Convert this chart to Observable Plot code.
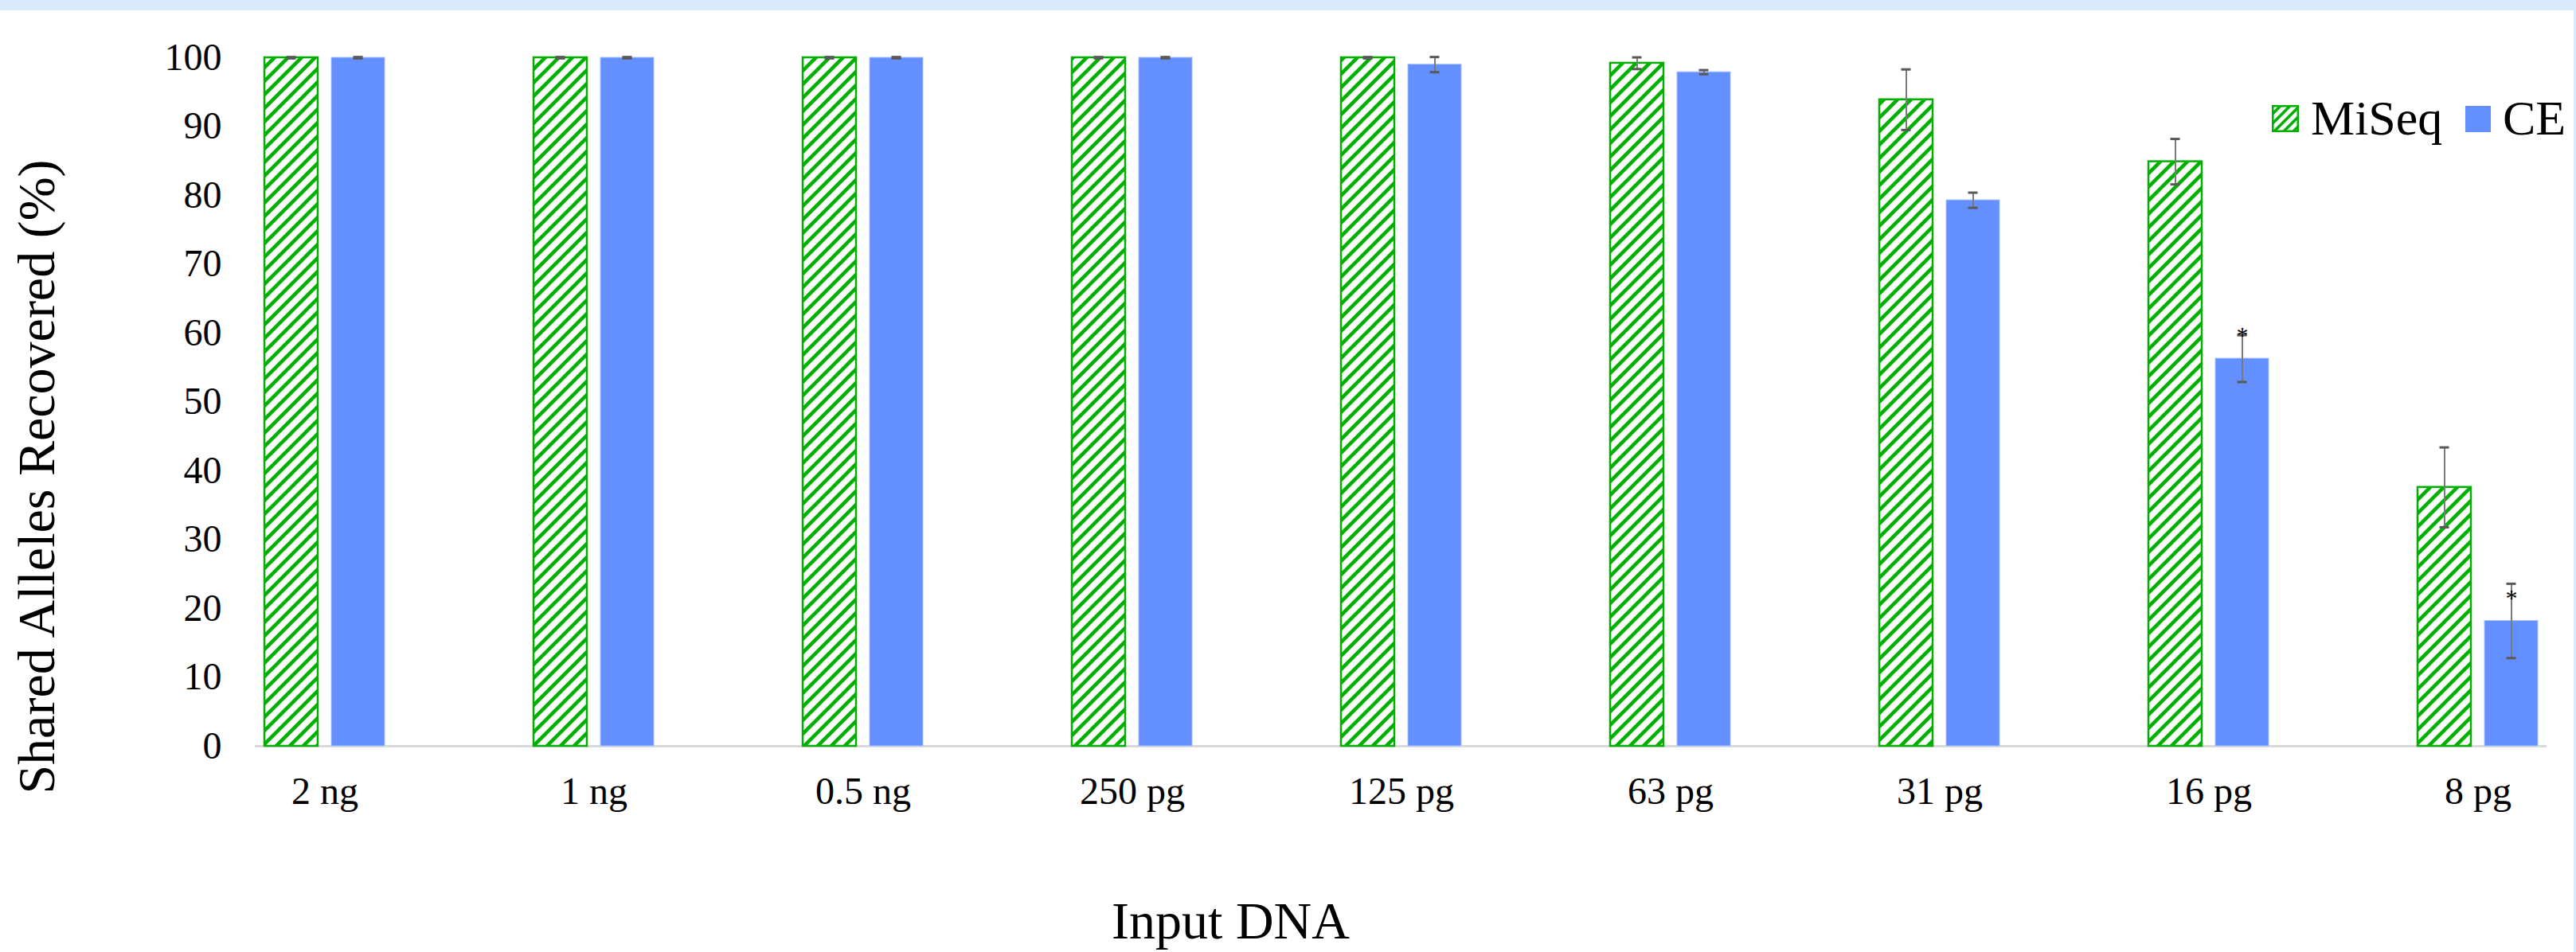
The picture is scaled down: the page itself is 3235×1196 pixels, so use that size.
<!DOCTYPE html>
<html>
<head>
<meta charset="utf-8">
<script src="https://cdn.jsdelivr.net/npm/d3@7"></script>
<script src="https://cdn.jsdelivr.net/npm/@observablehq/plot@0.6"></script>
<style>
  html, body { margin: 0; padding: 0; background: #fff; overflow: hidden; }
  #wrap { position: relative; width: 3235px; height: 1196px; background: #fff; font-family: "Liberation Serif", "Times New Roman", serif; }
  #topband { position: absolute; left: 0; top: 0; width: 3235px; height: 13px; background: #dbebfc; z-index: 3; }
  #rightband { position: absolute; left: 3232px; top: 0; width: 3px; height: 1196px; background: #dbebfc; z-index: 3; }
  .lg { position: absolute; z-index: 2; }
  .lgtext { font-size: 62px; line-height: 62px; color: #000; white-space: nowrap; }
</style>
</head>
<body>
<div id="wrap">
  <div id="topband"></div>
  <div id="rightband"></div>
  <svg class="lg" style="left:2853px; top:132px;" width="34" height="34">
    <defs>
      <pattern id="legend-hatch" patternUnits="userSpaceOnUse" width="12" height="12">
        <rect width="12" height="12" fill="#fff"></rect>
        <path d="M-3,3 l6,-6 M0,12 l12,-12 M9,15 l6,-6" stroke="#00b000" stroke-width="3.5"></path>
      </pattern>
    </defs>
    <rect x="1.25" y="1.25" width="31.5" height="31.5" fill="url(#legend-hatch)" stroke="#00b000" stroke-width="2.5"></rect>
  </svg>
  <div class="lg lgtext" style="left:2902px; top:117px;">MiSeq</div>
  <div class="lg" style="left:3096px; top:133px; width:32px; height:33px; background:#638fff;"></div>
  <div class="lg lgtext" style="left:3143px; top:117px;">CE</div>
  <div id="chart"></div>
</div>
<script>
// ---- data ----
const categories = ["2 ng", "1 ng", "0.5 ng", "250 pg", "125 pg", "63 pg", "31 pg", "16 pg", "8 pg"];
const miseqValues = [100, 100, 100, 100, 100, 99.2, 93.9, 84.9, 37.6];
const miseqErrors = [0.1, 0.1, 0.1, 0.1, 0.1, 0.85, 4.4, 3.3, 5.8];
const ceValues = [100, 100, 100, 100, 99.0, 97.9, 79.3, 56.3, 18.2];
const ceErrors = [0.1, 0.1, 0.1, 0.1, 1.1, 0.3, 1.1, 3.4, 5.4];
const ceSignificant = [false, false, false, false, false, false, false, true, true];
const yTicks = [0, 10, 20, 30, 40, 50, 60, 70, 80, 90, 100];
const yLabel = "Shared Alleles Recovered (%)";
const xLabel = "Input DNA";

const rows = categories.map((c, i) => ({
  category: c,
  miseq: miseqValues[i], miseqErr: miseqErrors[i],
  ce: ceValues[i], ceErr: ceErrors[i],
  star: ceSignificant[i]
}));

const serif = '"Liberation Serif", "Times New Roman", serif';
const off = 42;

const chart = Plot.plot({
  width: 3235,
  height: 1196,
  marginTop: 72,
  marginBottom: 259,
  marginLeft: 320,
  marginRight: 37,
  style: { fontFamily: serif, fontSize: "48px", color: "#000", background: "transparent" },
  x: { domain: categories, paddingInner: 0.802, paddingOuter: 0.151, label: null },
  y: { domain: [0, 100], label: null },
  marks: [
    Plot.ruleY([0], { stroke: "#d9d9d9", strokeWidth: 3 }),
    Plot.barY(rows, { x: "category", y: "miseq", dx: -off, fill: "url(#miseq-hatch)", stroke: "#00b000", strokeWidth: 2.5 }),
    Plot.barY(rows, { x: "category", y: "ce", dx: off, fill: "#638fff", stroke: "#a9c1ff", strokeWidth: 1 }),
    Plot.ruleX(rows, { x: "category", y1: d => d.miseq - d.miseqErr, y2: d => d.miseq + d.miseqErr, dx: -off, stroke: "#7a7a7a", strokeWidth: 2 }),
    Plot.tickY(rows, { x: "category", y: d => d.miseq - d.miseqErr, dx: -off, insetLeft: 27.5, insetRight: 27.5, stroke: "#595959", strokeWidth: 3 }),
    Plot.tickY(rows, { x: "category", y: d => d.miseq + d.miseqErr, dx: -off, insetLeft: 27.5, insetRight: 27.5, stroke: "#595959", strokeWidth: 3 }),
    Plot.ruleX(rows, { x: "category", y1: d => d.ce - d.ceErr, y2: d => d.ce + d.ceErr, dx: off, stroke: "#7a7a7a", strokeWidth: 2 }),
    Plot.tickY(rows, { x: "category", y: d => d.ce - d.ceErr, dx: off, insetLeft: 27.5, insetRight: 27.5, stroke: "#595959", strokeWidth: 3 }),
    Plot.tickY(rows, { x: "category", y: d => d.ce + d.ceErr, dx: off, insetLeft: 27.5, insetRight: 27.5, stroke: "#595959", strokeWidth: 3 }),
    Plot.text(rows.filter(d => d.star), { x: "category", y: "ce", text: () => "*", dx: off, dy: -29, fontSize: 30, lineAnchor: "middle", fill: "#000" }),
    Plot.axisY({ ticks: yTicks, tickSize: 0, tickPadding: 42, fontSize: 48, label: null }),
    Plot.axisX({ tickSize: 0, tickPadding: 38, fontSize: 48, label: null }),
    Plot.text([yLabel], { text: d => d, frameAnchor: "left", textAnchor: "middle", rotate: -90, dx: -274, dy: 94, fontSize: 66, lineAnchor: "middle", fill: "#000" }),
    Plot.text([xLabel], { text: d => d, frameAnchor: "bottom", textAnchor: "middle", dx: -214, dy: 220, fontSize: 66, lineAnchor: "middle", fill: "#000" })
  ]
});

// hatch pattern for MiSeq bars
const ns = "http://www.w3.org/2000/svg";
const defs = document.createElementNS(ns, "defs");
defs.innerHTML = '<pattern id="miseq-hatch" patternUnits="userSpaceOnUse" width="17" height="17">' +
  '<rect width="17" height="17" fill="#fff"></rect>' +
  '<path d="M-4,4 l8,-8 M0,17 l17,-17 M13,21 l8,-8" stroke="#00b000" stroke-width="4.5"></path></pattern>';
chart.insertBefore(defs, chart.firstChild);
chart.style.position = "absolute";
chart.style.left = "0px";
chart.style.top = "0px";
document.getElementById("chart").appendChild(chart);
</script>
</body>
</html>
